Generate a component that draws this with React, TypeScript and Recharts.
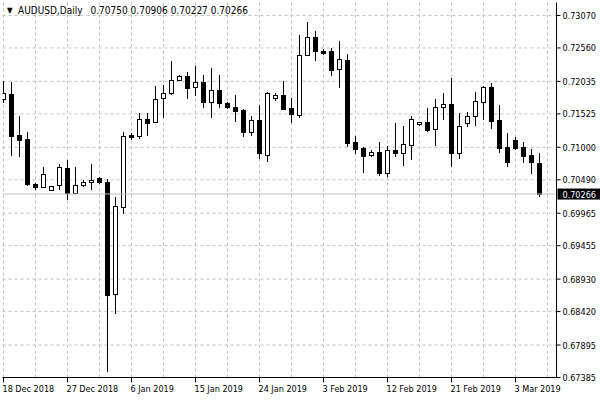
import React from 'react';
import { ComposedChart, Bar, XAxis, YAxis, CartesianGrid, ReferenceLine } from 'recharts';

const symbol = 'AUDUSD';
const timeframe = 'Daily';

// daily bars, 18 Dec 2018 .. 6 Mar 2019
const opens = [
  0.71751, 0.71829, 0.71185, 0.71122, 0.70416, 0.70369, 0.70314, 0.70400, 0.70667, 0.70274,
  0.70400, 0.70447, 0.70510, 0.70447, 0.68688, 0.70054, 0.71185, 0.71170, 0.71437, 0.71390,
  0.71766, 0.71845, 0.72049, 0.72112, 0.71939, 0.72018, 0.71704, 0.71892, 0.71688, 0.71625,
  0.71578, 0.71232, 0.71421, 0.70871, 0.71766, 0.71814, 0.71609, 0.71499, 0.72442, 0.72725,
  0.72505, 0.72505, 0.72221, 0.72363, 0.71075, 0.70981, 0.70871, 0.70918, 0.70588, 0.70950,
  0.70903, 0.71028, 0.71358, 0.71390, 0.71280, 0.71625, 0.71672, 0.70903, 0.71374, 0.71484,
  0.71704, 0.71939, 0.71421, 0.70997, 0.71107, 0.70997, 0.70871, 0.70750,
];
const highs = [
  0.72049, 0.72018, 0.71499, 0.71248, 0.70447, 0.70698, 0.70400, 0.70730, 0.70793, 0.70698,
  0.70479, 0.70730, 0.70541, 0.70510, 0.70212, 0.71248, 0.71217, 0.71531, 0.71531, 0.71955,
  0.71986, 0.72363, 0.72143, 0.72190, 0.72269, 0.72143, 0.72238, 0.72128, 0.71704, 0.71829,
  0.71609, 0.71484, 0.71657, 0.71861, 0.71845, 0.72049, 0.71782, 0.72756, 0.72960, 0.72834,
  0.72536, 0.72567, 0.72662, 0.72473, 0.71185, 0.71012, 0.70965, 0.71091, 0.71028, 0.71374,
  0.71327, 0.71499, 0.71405, 0.71625, 0.71751, 0.71845, 0.72081, 0.71531, 0.71562, 0.71861,
  0.71955, 0.72002, 0.71672, 0.71232, 0.71154, 0.71091, 0.70981, 0.70906,
];
const lows = [
  0.71688, 0.70871, 0.70855, 0.70400, 0.70337, 0.70360, 0.70306, 0.70337, 0.70180, 0.70260,
  0.70384, 0.70322, 0.70431, 0.67479, 0.68390, 0.69945, 0.71107, 0.71138, 0.71170, 0.71374,
  0.71468, 0.71829, 0.72034, 0.71766, 0.71798, 0.71625, 0.71468, 0.71625, 0.71609, 0.71390,
  0.71154, 0.71170, 0.70824, 0.70777, 0.71735, 0.71590, 0.71374, 0.71468, 0.72436, 0.72363,
  0.72442, 0.72112, 0.71939, 0.71012, 0.70887, 0.70604, 0.70840, 0.70557, 0.70541, 0.70855,
  0.70714, 0.70793, 0.71342, 0.71248, 0.71028, 0.71421, 0.70698, 0.70824, 0.71311, 0.71342,
  0.71421, 0.71295, 0.70903, 0.70698, 0.70950, 0.70746, 0.70588, 0.70227,
];
const closes = [
  0.71845, 0.71170, 0.71107, 0.70416, 0.70369, 0.70573, 0.70392, 0.70683, 0.70274, 0.70400,
  0.70447, 0.70479, 0.70447, 0.68672, 0.70070, 0.71170, 0.71154, 0.71437, 0.71374, 0.71751,
  0.71845, 0.72049, 0.72112, 0.71923, 0.72018, 0.71704, 0.71892, 0.71688, 0.71625, 0.71562,
  0.71232, 0.71421, 0.70903, 0.71845, 0.71814, 0.71594, 0.71515, 0.72442, 0.72725, 0.72505,
  0.72473, 0.72206, 0.72379, 0.71060, 0.70965, 0.70855, 0.70918, 0.70588, 0.70950, 0.70903,
  0.71044, 0.71437, 0.71390, 0.71264, 0.71625, 0.71672, 0.70903, 0.71327, 0.71484, 0.71719,
  0.71939, 0.71405, 0.70981, 0.70761, 0.70981, 0.70855, 0.70761, 0.70266,
];

const dateTickIndex = [0, 8, 16, 24, 32, 40, 48, 56, 64];
const dateLabels = [
  '18 Dec 2018', '27 Dec 2018', '6 Jan 2019', '15 Jan 2019', '24 Jan 2019',
  '3 Feb 2019', '12 Feb 2019', '21 Feb 2019', '3 Mar 2019',
];
const gridIndex = [0, 4, 8, 12, 16, 20, 24, 28, 32, 36, 40, 44, 48, 52, 56, 60, 64, 68];
const priceTicks = [
  0.7307, 0.7256, 0.72035, 0.71525, 0.71, 0.7049, 0.69965, 0.69455, 0.6893, 0.6842, 0.67895, 0.67385,
];

const data = opens.map((o, i) => ({
  i,
  open: o,
  high: highs[i],
  low: lows[i],
  close: closes[i],
  range: [lows[i], highs[i]],
}));

const last = data[data.length - 1];
const FONT = "Tahoma, 'DejaVu Sans Condensed', 'Liberation Sans', sans-serif";
const FS = 9;

function Candle(props: any) {
  const { x, y, width, height, payload } = props;
  const { open, high, low, close } = payload;
  const top = Math.min(y, y + height);
  const h = Math.abs(height);
  const k = h / (high - low);
  const py = (v: number) => top + (high - v) * k;
  const cx = Math.round(x + width / 2 - 0.5) + 0.5;
  const bull = close >= open;
  const bTop = Math.round(py(Math.max(open, close)) - 0.5) + 0.5;
  let bBot = Math.round(py(Math.min(open, close)) - 0.5) + 0.5;
  if (bBot - bTop < 1) bBot = bTop + 1;
  return (
    <g>
      <line x1={cx} x2={cx} y1={Math.round(top)} y2={Math.round(top + h)} stroke="#000" />
      <rect
        x={cx - 2}
        y={bTop}
        width={4}
        height={bBot - bTop}
        fill={bull ? '#fff' : '#000'}
        stroke="#000"
      />
    </g>
  );
}

function DateTick({ x, y, payload }: any) {
  const idx = dateTickIndex.indexOf(payload.value);
  return (
    <text x={x - 1} y={y + 7} fontSize={FS} fontFamily={FONT} fill="#000" textAnchor="start">
      {dateLabels[idx]}
    </text>
  );
}

function PriceTick({ x, y, payload }: any) {
  return (
    <text x={x} y={y + 3.5} fontSize={FS} fontFamily={FONT} fill="#000" textAnchor="start">
      {payload.value.toFixed(5)}
    </text>
  );
}

function PriceTag(props: any) {
  const vb = props.viewBox || {};
  const x0 = vb.x + vb.width + 1;
  const y0 = vb.y;
  return (
    <g>
      <rect x={x0} y={y0 - 5.5} width={44} height={11} fill="#000" />
      <text x={x0 + 5} y={y0 + 3.5} fontSize={FS} fontFamily={FONT} fill="#fff">
        {last.close.toFixed(5)}
      </text>
    </g>
  );
}

export default function App() {
  return (
    <div style={{ position: 'absolute', left: 0, top: 0, width: 600, height: 400, background: '#fff' }}>
      <ComposedChart
        width={600}
        height={400}
        data={data}
        margin={{ top: 2.5, right: 0, bottom: 2.5, left: 2.5 }}
      >
        <CartesianGrid
          stroke="#c0c0c0"
          strokeDasharray="3 3"
          horizontalValues={priceTicks}
          verticalValues={gridIndex}
        />
        <XAxis
          dataKey="i"
          type="number"
          domain={[-0.125, 69.125]}
          allowDataOverflow
          ticks={dateTickIndex}
          tick={<DateTick />}
          tickSize={5}
          tickMargin={2}
          height={20}
          axisLine={{ stroke: '#000' }}
          tickLine={{ stroke: '#000' }}
          interval={0}
        />
        <XAxis
          xAxisId="top"
          orientation="top"
          type="number"
          domain={[0, 1]}
          height={0}
          tick={false}
          tickLine={false}
          axisLine={{ stroke: '#000' }}
        />
        <YAxis
          orientation="right"
          type="number"
          domain={[0.67385, 0.73274]}
          allowDataOverflow
          ticks={priceTicks}
          tick={<PriceTick />}
          tickSize={4}
          tickMargin={2}
          width={43.5}
          axisLine={{ stroke: '#000' }}
          tickLine={{ stroke: '#000' }}
          interval={0}
        />
        <YAxis
          yAxisId="left"
          orientation="left"
          type="number"
          domain={[0, 1]}
          width={0}
          tick={false}
          tickLine={false}
          axisLine={{ stroke: '#000' }}
        />
        <ReferenceLine y={last.close} stroke="#c0c0c0" label={<PriceTag />} />
        <Bar dataKey="range" barSize={5} shape={<Candle />} isAnimationActive={false} />
      </ComposedChart>
      <div
        style={{
          position: 'absolute',
          left: 7,
          top: 5,
          fontFamily: FONT,
          fontSize: 8,
          lineHeight: '12px',
          color: '#000',
        }}
      >
        ▼
      </div>
      <div
        style={{
          position: 'absolute',
          left: 18,
          top: 5,
          fontFamily: FONT,
          fontSize: 10,
          lineHeight: '12px',
          color: '#000',
          whiteSpace: 'pre',
        }}
      >
        {`${symbol},${timeframe}`}
        <span style={{ marginLeft: 8 }}>
          {`${last.open.toFixed(5)} ${last.high.toFixed(5)} ${last.low.toFixed(5)} ${last.close.toFixed(5)}`}
        </span>
      </div>
    </div>
  );
}
